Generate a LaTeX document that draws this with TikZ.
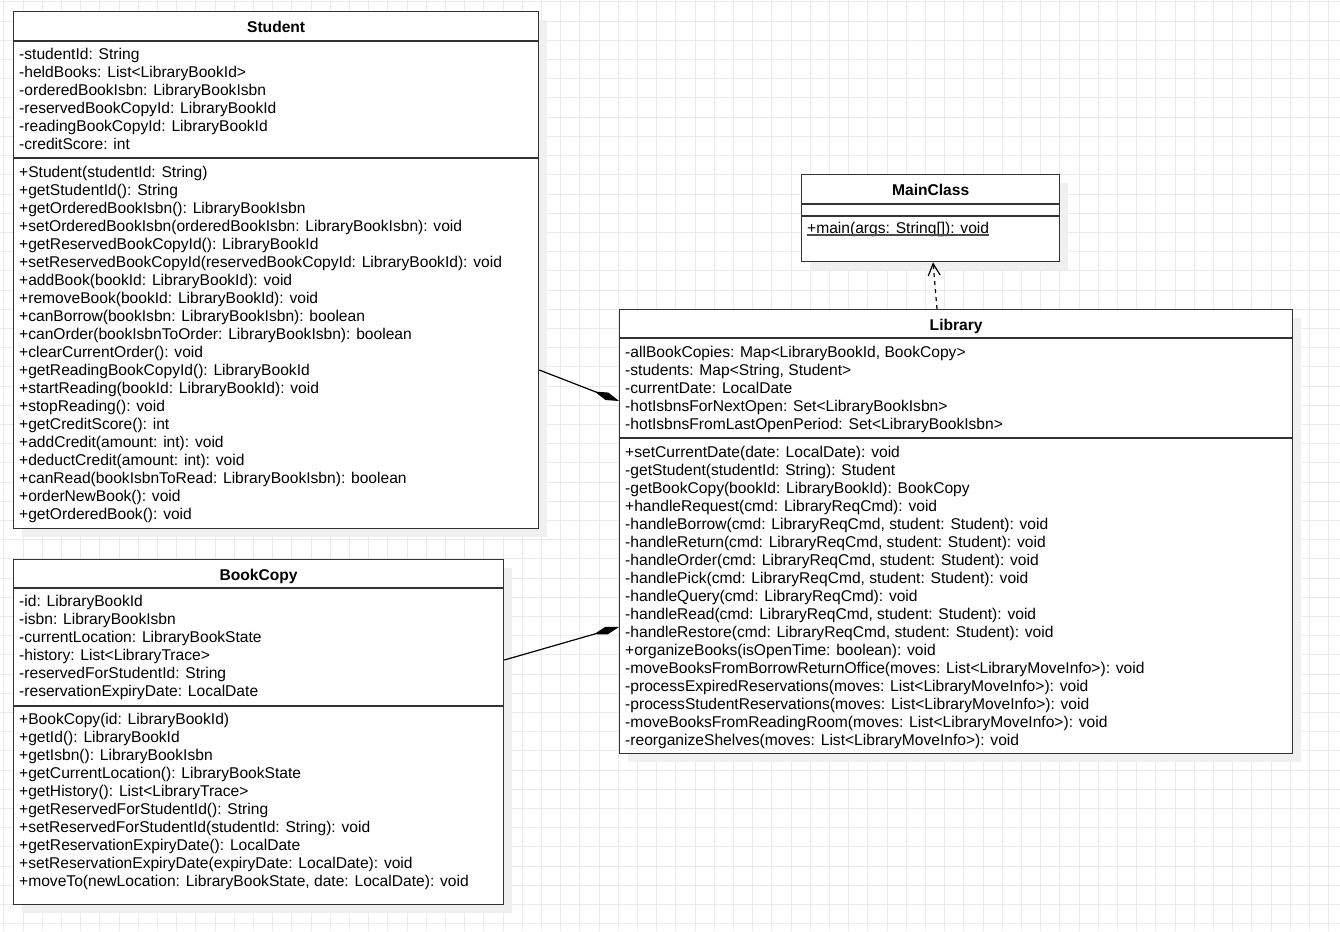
\documentclass[tikz,border=0pt]{standalone}
\usepackage{fontspec}
\setmainfont{Liberation Sans}
\usetikzlibrary{arrows.meta,shadows}
\newcommand{\umlsize}{\fontsize{15.6}{18}\selectfont}

\begin{document}
\begin{tikzpicture}[x=1pt, y=-1pt,
		gridline/.style={black!8, line width=0.8pt},
		classbox/.style={draw=black!80, line width=1.3pt, fill=white, anchor=north west, inner sep=0pt,
			general shadow={fill=black!6, shadow xshift=8pt, shadow yshift=-8pt}},
		classtitle/.style={font=\umlsize\bfseries, anchor=base, inner sep=0pt},
		members/.style={font=\umlsize, anchor=north west, inner sep=0pt, align=left, execute at begin node=\strut},
		divider/.style={black!80, line width=1.3pt},
		comp/.style={line width=1.2pt, -{Diamond[length=26pt, width=8pt]}},
		dep/.style={line width=1.2pt, dash pattern=on 4pt off 4pt, -{Straight Barb[length=12pt, width=12pt]}}]
		
		\useasboundingbox (0,0) rectangle (1340,931);
		\fill[white] (0,0) rectangle (1340,931);
		
		% Background grid
		\foreach \i in {0,...,69}
			\draw[gridline] ({3.7+19.2*\i},0) -- ({3.7+19.2*\i},931);
		\foreach \j in {0,...,48}
			\draw[gridline] (0,{1.9+19.2*\j}) -- (1340,{1.9+19.2*\j});
		
		% Class boxes
		\node[classbox, minimum width=525pt, minimum height=517pt] (student) at (13,11) {};
		\node[classbox, minimum width=490pt, minimum height=345pt] (bookcopy) at (13,559) {};
		\node[classbox, minimum width=673pt, minimum height=444pt] (library) at (619,309) {};
		\node[classbox, minimum width=258pt, minimum height=87pt] (mainclass) at (801,174) {};
		
		% Compartment dividers
		\draw[divider] (student.west |- 0,41) -- (student.east |- 0,41);
		\draw[divider] (student.west |- 0,158) -- (student.east |- 0,158);
		\draw[divider] (bookcopy.west |- 0,588) -- (bookcopy.east |- 0,588);
		\draw[divider] (bookcopy.west |- 0,706) -- (bookcopy.east |- 0,706);
		\draw[divider] (library.west |- 0,338) -- (library.east |- 0,338);
		\draw[divider] (library.west |- 0,438) -- (library.east |- 0,438);
		\draw[divider] (mainclass.west |- 0,204) -- (mainclass.east |- 0,204);
		\draw[divider] (mainclass.west |- 0,216) -- (mainclass.east |- 0,216);
		
		% Class names
		\node[classtitle] (studentName) at (student.north |- 0,33) {Student};
		\node[classtitle] (bookcopyName) at (bookcopy.north |- 0,580) {BookCopy};
		\node[classtitle] (libraryName) at (library.north |- 0,330) {Library};
		\node[classtitle] (mainclassName) at (mainclass.north |- 0,195) {MainClass};
		
		% Student members
		\node[members] (studentAttrs) at (19,48.4) {-studentId: String\\
			-heldBooks: List<LibraryBookId>\\
			-orderedBookIsbn: LibraryBookIsbn\\
			-reservedBookCopyId: LibraryBookId\\
			-readingBookCopyId: LibraryBookId\\
			-creditScore: int};
		\node[members] (studentOps) at (19,166.4) {+Student(studentId: String)\\
			+getStudentId(): String\\
			+getOrderedBookIsbn(): LibraryBookIsbn\\
			+setOrderedBookIsbn(orderedBookIsbn: LibraryBookIsbn): void\\
			+getReservedBookCopyId(): LibraryBookId\\
			+setReservedBookCopyId(reservedBookCopyId: LibraryBookId): void\\
			+addBook(bookId: LibraryBookId): void\\
			+removeBook(bookId: LibraryBookId): void\\
			+canBorrow(bookIsbn: LibraryBookIsbn): boolean\\
			+canOrder(bookIsbnToOrder: LibraryBookIsbn): boolean\\
			+clearCurrentOrder(): void\\
			+getReadingBookCopyId(): LibraryBookId\\
			+startReading(bookId: LibraryBookId): void\\
			+stopReading(): void\\
			+getCreditScore(): int\\
			+addCredit(amount: int): void\\
			+deductCredit(amount: int): void\\
			+canRead(bookIsbnToRead: LibraryBookIsbn): boolean\\
			+orderNewBook(): void\\
			+getOrderedBook(): void};
		
		% BookCopy members
		\node[members] (bookcopyAttrs) at (19,595.4) {-id: LibraryBookId\\
			-isbn: LibraryBookIsbn\\
			-currentLocation: LibraryBookState\\
			-history: List<LibraryTrace>\\
			-reservedForStudentId: String\\
			-reservationExpiryDate: LocalDate};
		\node[members] (bookcopyOps) at (19,713.4) {+BookCopy(id: LibraryBookId)\\
			+getId(): LibraryBookId\\
			+getIsbn(): LibraryBookIsbn\\
			+getCurrentLocation(): LibraryBookState\\
			+getHistory(): List<LibraryTrace>\\
			+getReservedForStudentId(): String\\
			+setReservedForStudentId(studentId: String): void\\
			+getReservationExpiryDate(): LocalDate\\
			+setReservationExpiryDate(expiryDate: LocalDate): void\\
			+moveTo(newLocation: LibraryBookState, date: LocalDate): void};
		
		% Library members
		\node[members] (libraryAttrs) at (625,346.4) {-allBookCopies: Map<LibraryBookId, BookCopy>\\
			-students: Map<String, Student>\\
			-currentDate: LocalDate\\
			-hotIsbnsForNextOpen: Set<LibraryBookIsbn>\\
			-hotIsbnsFromLastOpenPeriod: Set<LibraryBookIsbn>};
		\node[members] (libraryOps) at (625,446.4) {+setCurrentDate(date: LocalDate): void\\
			-getStudent(studentId: String): Student\\
			-getBookCopy(bookId: LibraryBookId): BookCopy\\
			+handleRequest(cmd: LibraryReqCmd): void\\
			-handleBorrow(cmd: LibraryReqCmd, student: Student): void\\
			-handleReturn(cmd: LibraryReqCmd, student: Student): void\\
			-handleOrder(cmd: LibraryReqCmd, student: Student): void\\
			-handlePick(cmd: LibraryReqCmd, student: Student): void\\
			-handleQuery(cmd: LibraryReqCmd): void\\
			-handleRead(cmd: LibraryReqCmd, student: Student): void\\
			-handleRestore(cmd: LibraryReqCmd, student: Student): void\\
			+organizeBooks(isOpenTime: boolean): void\\
			-moveBooksFromBorrowReturnOffice(moves: List<LibraryMoveInfo>): void\\
			-processExpiredReservations(moves: List<LibraryMoveInfo>): void\\
			-processStudentReservations(moves: List<LibraryMoveInfo>): void\\
			-moveBooksFromReadingRoom(moves: List<LibraryMoveInfo>): void\\
			-reorganizeShelves(moves: List<LibraryMoveInfo>): void};
		
		% MainClass members (static, underlined)
		\node[font=\umlsize, anchor=base west, inner sep=0pt] (mainclassOps) at (807,233) {+main(args: String[]): void};
		\draw[black!70, line width=1.2pt] ([yshift=-2pt]mainclassOps.base west) -- ([yshift=-2pt]mainclassOps.base east);
		
		% Connections
		\draw[comp] (student.east |- 0,370) -- (library.west |- 0,401);
		\draw[comp] (bookcopy.east |- 0,660) -- (library.west |- 0,627);
		\draw[dep] (library.north -| 937,0) -- (mainclass.south -| 933,0);
		
	\end{tikzpicture}
\end{document}
